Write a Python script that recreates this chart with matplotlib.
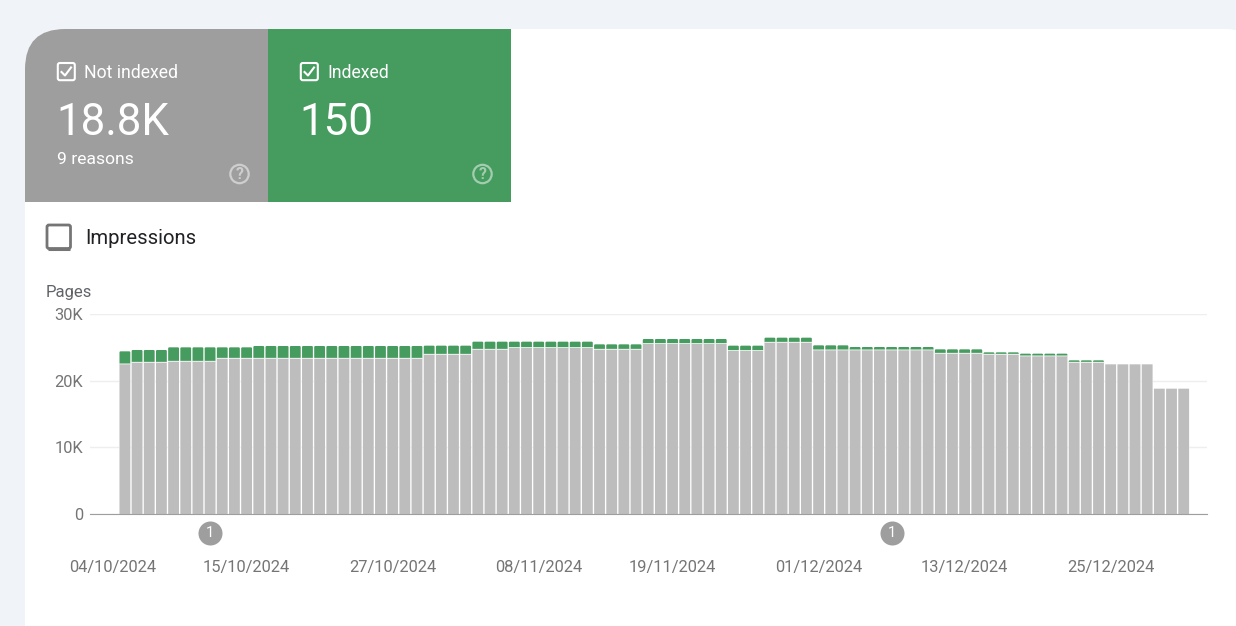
import matplotlib
matplotlib.use("Agg")
import matplotlib.pyplot as plt
import numpy as np
from matplotlib.patches import Circle, FancyBboxPatch, PathPatch, Rectangle
from matplotlib.path import Path

plt.rcParams['font.family'] = ['Roboto', 'DejaVu Sans']

# values in thousands of pages, one bar per day
not_indexed = [22.45, 22.7, 22.7, 22.7, 22.85, 22.85, 22.85, 22.85,
               23.3, 23.3, 23.3, 23.3, 23.3, 23.3, 23.3, 23.3, 23.3, 23.3, 23.3, 23.3,
               23.3, 23.3, 23.3, 23.3, 23.3,
               23.9, 23.9, 23.9, 23.9, 24.65, 24.65, 24.65,
               24.9, 24.9, 24.9, 24.9, 24.9, 24.9, 24.9,
               24.65, 24.65, 24.65, 24.65,
               25.5, 25.5, 25.5, 25.5, 25.5, 25.5, 25.5,
               24.45, 24.45, 24.45, 25.7, 25.7, 25.7, 25.7,
               24.55, 24.55, 24.55, 24.55, 24.55, 24.55, 24.55, 24.55, 24.55, 24.55,
               24.05, 24.05, 24.05, 24.05, 23.9, 23.9, 23.9,
               23.65, 23.65, 23.65, 23.65, 22.7, 22.7, 22.7,
               22.45, 22.45, 22.45, 22.45, 18.8, 18.8, 18.8]
indexed = [1.95, 1.9, 1.9, 1.9, 2.15, 2.15, 2.15, 2.15,
           1.7, 1.7, 1.7, 1.9, 1.9, 1.9, 1.9, 1.9, 1.9, 1.9, 1.9, 1.9,
           1.9, 1.9, 1.9, 1.9, 1.9,
           1.35, 1.35, 1.35, 1.35, 1.2, 1.2, 1.2,
           0.95, 0.95, 0.95, 0.95, 0.95, 0.95, 0.95,
           0.8, 0.8, 0.8, 0.8,
           0.75, 0.75, 0.75, 0.75, 0.75, 0.75, 0.75,
           0.8, 0.8, 0.8, 0.75, 0.75, 0.75, 0.75,
           0.75, 0.75, 0.75, 0.5, 0.5, 0.5, 0.5, 0.5, 0.5, 0.5,
           0.65, 0.65, 0.65, 0.65, 0.35, 0.35, 0.35,
           0.4, 0.4, 0.4, 0.4, 0.35, 0.35, 0.35,
           0, 0, 0, 0, 0, 0, 0]
date_labels = ['04/10/2024', '15/10/2024', '27/10/2024', '08/11/2024',
               '19/11/2024', '01/12/2024', '13/12/2024', '25/12/2024']
date_pos = [-1, 10, 22, 34, 45, 57, 69, 81]
y_ticks = [0, 10, 20, 30]
y_labels = ['0', '10K', '20K', '30K']
event_pos = [7, 63]
event_labels = ['1', '1']

GRAY = '#9e9e9e'
GREEN = '#469b5f'
BAR = '#bdbdbd'
TICK = '#757575'
W, H = 1236, 626

fig = plt.figure(figsize=(W / 100, H / 100), dpi=100)
fig.patch.set_facecolor('#f0f4f9')

# overlay in pixel coordinates for the cards and the panel
bg = fig.add_axes([0, 0, 1, 1])
bg.set_xlim(0, W)
bg.set_ylim(H, 0)
bg.axis('off')


def top_rounded(x0, y0, x1, y1, left=0, right=0):
    verts = [(x0, y1), (x0, y0 + left), (x0, y0), (x0 + left, y0),
             (x1 - right, y0), (x1, y0), (x1, y0 + right), (x1, y1), (x0, y1)]
    codes = [Path.MOVETO, Path.LINETO, Path.CURVE3, Path.CURVE3,
             Path.LINETO, Path.CURVE3, Path.CURVE3, Path.LINETO, Path.CLOSEPOLY]
    return Path(verts, codes)


bg.add_patch(PathPatch(top_rounded(25, 29, 1261, H + 5, 40, 36), fc='white', ec='none'))
bg.add_patch(PathPatch(top_rounded(25, 29, 268, 202, 40, 0), fc=GRAY, ec='none'))
bg.add_patch(Rectangle((268, 29), 243, 173, fc=GREEN, ec='none'))


def card(x, label, value, sub=None):
    bg.add_patch(FancyBboxPatch((x + 0.8, 63), 17, 17.2, boxstyle='round,pad=0,rounding_size=2',
                                fc='none', ec='white', lw=1.5))
    bg.plot([x + 4.5, x + 8, x + 14], [72, 75.5, 67.5], color='white', lw=1.5)
    bg.text(x + 27, 73, label, color='white', fontsize=12.7, va='center')
    bg.text(x - 0.5, 135, value, color='white', fontsize=31.6, va='baseline')
    if sub:
        bg.text(x, 160, sub, color='white', fontsize=12.6, va='center')
    bg.add_patch(Circle((x + 182.5, 174), 9.2, fc='none', ec='white', lw=1.6, alpha=0.5))
    bg.text(x + 182.5, 174.5, '?', color='white', alpha=0.5, fontsize=11.5, weight='bold',
            ha='center', va='center')


card(57, 'Not indexed', '18.8K', '9 reasons')
card(300, 'Indexed', '150')

bg.add_patch(FancyBboxPatch((47, 225), 23.5, 23.5, boxstyle='round,pad=0,rounding_size=2',
                            fc='white', ec='#757575', lw=2))
bg.plot([47.5, 70], [249, 249], color='#757575', lw=2.2, solid_capstyle='butt')
bg.text(85.5, 238.5, 'Impressions', color='#202124', fontsize=14.6, va='center')
bg.text(46, 292.5, 'Pages', color='#5f6368', fontsize=12, va='center')

# bar chart
ax = fig.add_axes([90 / W, 1 - 514 / H, (1207 - 90) / W, 200 / H])
ax.patch.set_alpha(0)
x = np.arange(len(not_indexed))
gray_vals = np.array(not_indexed)
green_vals = np.array(indexed)
keep = green_vals > 0
px_y = 30 / 200
px_x = 1 / 12.17

green = ax.bar(x[keep], green_vals[keep] - 1 * px_y, bottom=gray_vals[keep], width=0.89 - 2 * px_x,
               color=GREEN, edgecolor=GREEN, linewidth=1.44, joinstyle='round', zorder=2)
gap = ax.bar(x, gray_vals + 0.8 * px_y, width=0.95, color='white', linewidth=0, zorder=3)
grey = ax.bar(x, gray_vals, width=0.89, color=BAR, linewidth=0, zorder=4)
for b in list(green) + list(gap) + list(grey):
    b.set_snap(False)

ax.set_xlim((90 - 124.9) * px_x, (1207 - 124.9) * px_x)
ax.set_ylim(0, 30)
ax.set_yticks(y_ticks, y_labels)
ax.set_xticks(date_pos, date_labels)
ax.tick_params(axis='both', length=0, labelcolor=TICK, labelsize=11.85)
ax.tick_params(axis='y', pad=5)
ax.tick_params(axis='x', pad=33)
ax.grid(axis='y', color='#eeeeee', lw=1, zorder=0)
ax.set_axisbelow(True)
for s in ['top', 'right', 'left']:
    ax.spines[s].set_visible(False)
ax.spines['bottom'].set_color(GRAY)
ax.spines['bottom'].set_zorder(5)

ax.scatter(event_pos, [-2.85] * len(event_pos), s=299, color=GRAY, linewidth=0, clip_on=False, zorder=6)
for p, t in zip(event_pos, event_labels):
    ax.text(p, -2.85, t, color='white', fontsize=10.5, ha='center', va='center', zorder=7)

fig.savefig('out.png', dpi=100, facecolor=fig.get_facecolor())
